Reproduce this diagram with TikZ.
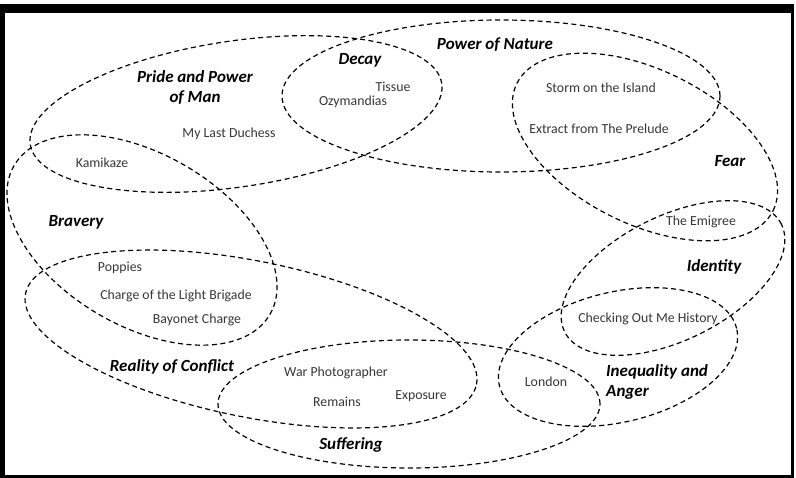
\documentclass[tikz,border=0pt]{standalone}
\usepackage{fontspec}
\setmainfont{Carlito}
\usetikzlibrary{positioning}
\definecolor{poemgrey}{RGB}{55,55,55}

\begin{document}
\begin{tikzpicture}[x=1pt,y=-1pt]
    \tikzset{theme/.style={draw=black, dash pattern=on 5pt off 3.5pt, line width=1.2pt},
        topic/.style={font=\fontsize{17}{20}\selectfont\bfseries\itshape, align=center, inner sep=0pt},
        poem/.style={font=\fontsize{13.8}{16}\selectfont, text=poemgrey, inner sep=0pt},}
    \useasboundingbox (0,0) rectangle (796,478);
    % frame
    \fill[black] (0,4) rectangle (794,478);
    \fill[white] (5,13) rectangle (791,475);
    % themes
    \draw[theme, rotate around={8.4:(236,114)}] (236,114) ellipse (208pt and 73pt);
    \draw[theme] (501,96) ellipse (219pt and 76pt);
    \draw[theme, rotate around={-26.4:(645,147)}] (645,147) ellipse (143pt and 77pt);
    \draw[theme, rotate around={-30.2:(142,240)}] (142,240) ellipse (148pt and 86pt);
    \draw[theme, rotate around={-11.4:(251,339)}] (251,339) ellipse (230pt and 78pt);
    \draw[theme] (409,404) ellipse (191pt and 64pt);
    \draw[theme, rotate around={26.4:(673,278)}] (673,278) ellipse (121pt and 62pt);
    \draw[theme, rotate around={13.5:(618,357)}] (618,357) ellipse (122pt and 65pt);
    % topic labels
    \node[topic] (pride) at (195,88) {Pride and Power\\of Man};
    \node[topic] (decay) at (360,60) {Decay};
    \node[topic] (nature) at (495,45) {Power of Nature};
    \node[topic] (fear) at (730,161) {Fear};
    \node[topic] (bravery) at (76,222) {Bravery};
    \node[topic] (identity) at (714,267) {Identity};
    \node[topic] (reality) at (172,367) {Reality of Conflict};
    \node[topic, align=left, anchor=west] (anger) at (606,382) {Inequality and\\Anger};
    \node[topic] (suffering) at (351,445) {Suffering};
    % poems
    \node[poem] (tissue) at (393,87) {Tissue};
    \node[poem] (ozy) at (353,102) {Ozymandias};
    \node[poem] (duchess) at (229,134) {My Last Duchess};
    \node[poem] (storm) at (601,88) {Storm on the Island};
    \node[poem] (prelude) at (599,129) {Extract from The Prelude};
    \node[poem] (kamikaze) at (102,163) {Kamikaze};
    \node[poem] (emigree) at (701,222) {The Emigree};
    \node[poem] (poppies) at (120,268) {Poppies};
    \node[poem] (brigade) at (176,296) {Charge of the Light Brigade};
    \node[poem] (bayonet) at (197,320) {Bayonet Charge};
    \node[poem] (checking) at (648,319) {Checking Out Me History};
    \node[poem] (warphoto) at (336,373) {War Photographer};
    \node[poem] (remains) at (337,402) {Remains};
    \node[poem] (exposure) at (421,396) {Exposure};
    \node[poem] (london) at (546,382) {London};
\end{tikzpicture}
\end{document}
